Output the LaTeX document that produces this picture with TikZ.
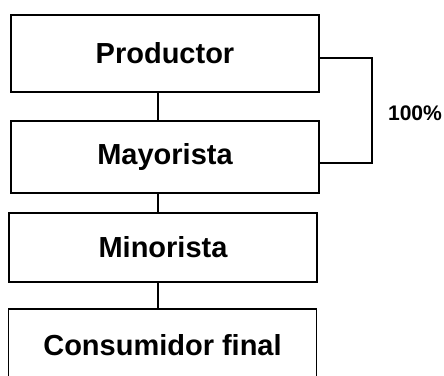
\documentclass[tikz,border=0pt]{standalone}
\usepackage{fontspec}
\setmainfont{Liberation Sans}
\usetikzlibrary{positioning,calc}

\begin{document}
\begin{tikzpicture}[
  x=0.02cm, y=-0.02cm,
  stage/.style={draw, line width=1.1pt, minimum width=6.16cm, inner sep=0pt,
                font=\fontsize{16.5}{19}\selectfont\bfseries},
  link/.style={line width=1.1pt}
]
  \useasboundingbox (0,0) rectangle (444,376);

  % Chain of stages
  \node[stage, minimum height=1.54cm] (prod) at (165, 53.5) {Productor};
  \node[stage, minimum height=1.44cm] (may) at (165, 157) {Mayorista};
  \node[stage, minimum height=1.38cm] (mino) at (163, 247.5) {Minorista};
  \node[stage, minimum height=1.44cm] (cons) at (162.5, 345) {Consumidor final};

  \coordinate (axis) at (158, 0);
  \draw[link] (prod.south -| axis) -- (may.north -| axis);
  \draw[link] (may.south -| axis) -- (mino.north -| axis);
  \draw[link] (mino.south -| axis) -- (cons.north -| axis);

  % Direct share
  \coordinate (brk) at (372, 110);
  \coordinate (top) at ([yshift=-0.09cm]prod.east);
  \coordinate (bot) at ([yshift=-0.12cm]may.east);
  \draw[link] (top) -- (top -| brk) -- (bot -| brk) -- (bot);
  \node[font=\fontsize{12}{14}\selectfont\bfseries] (pct) at (415, 113) {100\%};
\end{tikzpicture}
\end{document}
